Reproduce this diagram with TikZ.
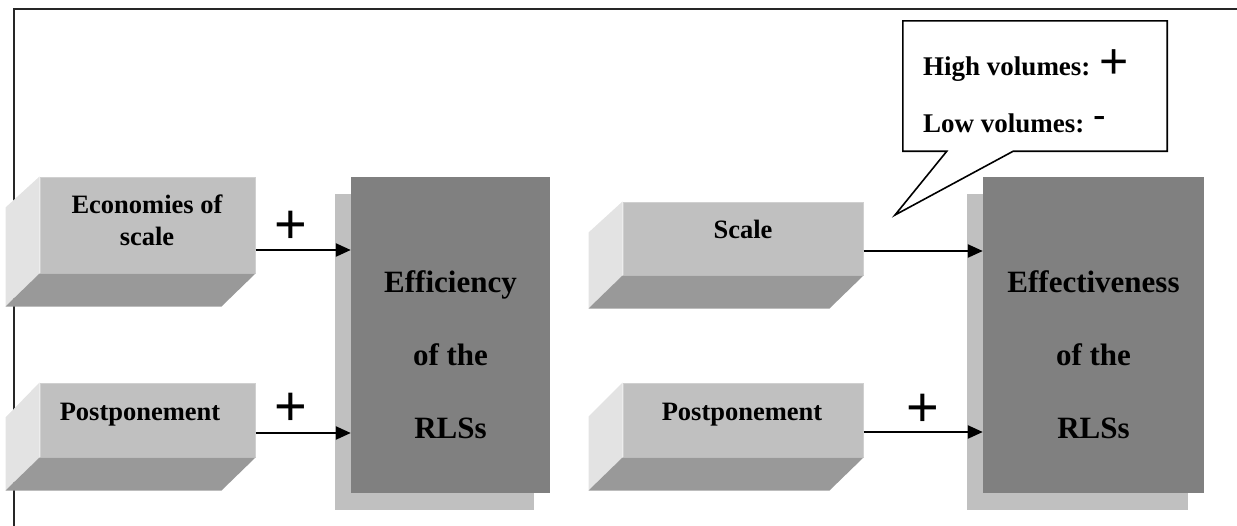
\documentclass[tikz,border=0pt]{standalone}
\usepackage{fontspec}
\setmainfont{Liberation Serif}
\newfontfamily\plusfont{Liberation Sans}
\usetikzlibrary{arrows.meta,shadows}
\definecolor{frontgrey}{HTML}{C0C0C0}
\definecolor{frontedge}{HTML}{D0D0D0}
\definecolor{leftgrey}{HTML}{E3E3E3}
\definecolor{bottomgrey}{HTML}{999999}
\definecolor{darkgrey}{HTML}{808080}
\definecolor{shadowgrey}{HTML}{C0C0C0}
\begin{document}
\begin{tikzpicture}[x=1pt,y=-1pt,
  frontface/.style={rectangle, fill=frontgrey, draw=frontedge, line width=1pt, inner sep=0pt},
  leftface/.style={fill=leftgrey},
  bottomface/.style={fill=bottomgrey},
  bigbox/.style={rectangle, fill=darkgrey, inner sep=0pt, minimum height=316pt,
    drop shadow={shadow xshift=-16pt, shadow yshift=-16.5pt, fill=shadowgrey, opacity=1}},
  bigtext/.style={font=\bfseries\fontsize{31}{73}\selectfont, align=center, inner sep=0pt},
  smalltext/.style={font=\bfseries\fontsize{26.5}{32}\selectfont, align=center, inner sep=0pt},
  calltext/.style={font=\bfseries\fontsize{27}{32}\selectfont, inner sep=0pt},
  plussign/.style={font=\plusfont\fontsize{56}{56}\selectfont, inner sep=0pt},
  arr/.style={line width=2.3pt, -{Triangle[length=15pt,width=13pt]}},
  calloutline/.style={draw=black, fill=white, line width=1.6pt, line join=miter},
  frameline/.style={line width=1.3pt, draw=black!85}
]
\useasboundingbox (0,0) rectangle (1237,525);

% frame
\draw[frameline] (14,526) -- (14,9) -- (1238,9);

% ---------- left part ----------
\node[frontface, minimum width=215pt, minimum height=96pt] (eco) at (147.5,225) {};
\fill[leftface] ([shift={(-34,31)}]eco.north west) -- (eco.north west) -- (eco.south west) -- ([shift={(-34,33)}]eco.south west) -- cycle;
\fill[bottomface] (eco.south west) -- (eco.south east) -- ([shift={(-34,33)}]eco.south east) -- ([shift={(-34,33)}]eco.south west) -- cycle;
\node[smalltext, anchor=north] (ecotext) at (147,195) {Economies of\\scale};

\node[frontface, minimum width=215pt, minimum height=74pt] (pp1) at (147.5,420) {};
\fill[leftface] ([shift={(-34,35)}]pp1.north west) -- (pp1.north west) -- (pp1.south west) -- ([shift={(-34,33)}]pp1.south west) -- cycle;
\fill[bottomface] (pp1.south west) -- (pp1.south east) -- ([shift={(-34,33)}]pp1.south east) -- ([shift={(-34,33)}]pp1.south west) -- cycle;
\node[smalltext, anchor=base] (pp1text) at (140,420) {Postponement};

\node[bigbox, minimum width=199pt] (eff) at (450.5,335) {};
\node[bigtext, anchor=north] (efftext) at (450.5,270) {Efficiency\\of the\\RLSs};

\coordinate (a1) at ([yshift=-25pt]eco.east);
\coordinate (a2) at ([yshift=-13pt]pp1.east);
\draw[arr] (a1) -- (a1 -| eff.west);
\draw[arr] (a2) -- (a2 -| eff.west);
\node[plussign] (plus1) at (291,227) {+};
\node[plussign] (plus2) at (291,409) {+};

% ---------- right part ----------
\node[frontface, minimum width=240pt, minimum height=73pt] (scale) at (743,238.5) {};
\fill[leftface] ([shift={(-34,31)}]scale.north west) -- (scale.north west) -- (scale.south west) -- ([shift={(-34,33)}]scale.south west) -- cycle;
\fill[bottomface] (scale.south west) -- (scale.south east) -- ([shift={(-34,33)}]scale.south east) -- ([shift={(-34,33)}]scale.south west) -- cycle;
\node[smalltext, anchor=base] (scaletext) at (743,238) {Scale};

\node[frontface, minimum width=240pt, minimum height=74pt] (pp2) at (743,420) {};
\fill[leftface] ([shift={(-34,34)}]pp2.north west) -- (pp2.north west) -- (pp2.south west) -- ([shift={(-34,33)}]pp2.south west) -- cycle;
\fill[bottomface] (pp2.south west) -- (pp2.south east) -- ([shift={(-34,33)}]pp2.south east) -- ([shift={(-34,33)}]pp2.south west) -- cycle;
\node[smalltext, anchor=base] (pp2text) at (742,420) {Postponement};

\node[bigbox, minimum width=221pt] (effv) at (1093.5,335) {};
\node[bigtext, anchor=north] (effvtext) at (1093.5,270) {Effectiveness\\of the\\RLSs};

\coordinate (a3) at ([yshift=-12.5pt]scale.east);
\coordinate (a4) at ([yshift=-12pt]pp2.east);
\draw[arr] (a3) -- (a3 -| effv.west);
\draw[arr] (a4) -- (a4 -| effv.west);
\node[plussign] (plus3) at (923,410) {+};

% callout
\node[rectangle, minimum width=264pt, minimum height=130pt, inner sep=0pt] (callout) at (1035,86) {};
\coordinate (tip) at (895,215);
\draw[calloutline] (callout.north west) -- (callout.north east) -- (callout.south east)
  -- ([xshift=-154pt]callout.south east) -- (tip) -- ([xshift=44pt]callout.south west)
  -- (callout.south west) -- cycle;
\node[calltext, anchor=base west] (hv) at (923,75) {High volumes: \raisebox{-3.6pt}{\plusfont\mdseries\fontsize{50}{50}\selectfont +}};
\node[calltext, anchor=base west] (lv) at (923,132) {Low volumes: \raisebox{6pt}{\fontsize{36}{36}\selectfont\bfseries -}};
\end{tikzpicture}
\end{document}
